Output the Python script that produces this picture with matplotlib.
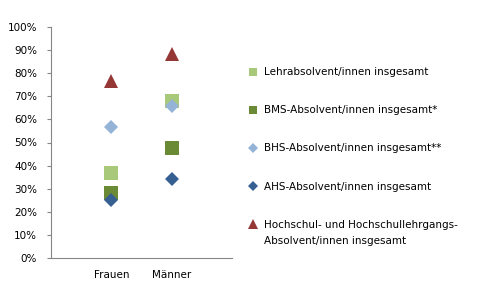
import matplotlib
matplotlib.use("Agg")
from matplotlib import pyplot as plt
from matplotlib.ticker import PercentFormatter

categories = ["Frauen", "Männer"]
lehr = [36.7, 68.0]
bms = [28.3, 47.5]
bhs = [56.5, 66.0]
ahs = [25.3, 34.0]
hochschul = [76.7, 88.3]

series = [
    ("Lehrabsolvent/innen insgesamt", lehr, "s", "#A9C97A", 9.5),
    ("BMS-Absolvent/innen insgesamt*", bms, "s", "#6B8A35", 9.5),
    ("BHS-Absolvent/innen insgesamt**", bhs, "D", "#95B3D7", 7.5),
    ("AHS-Absolvent/innen insgesamt", ahs, "D", "#376092", 7.5),
    ("Hochschul- und Hochschullehrgangs-", hochschul, "^", "#953735", 10),
]
second_line = "Absolvent/innen insgesamt"

fig = plt.figure(figsize=(4.82, 2.9), dpi=100)
ax = fig.add_axes([51 / 482, 32 / 290, 181 / 482, 231 / 290])

xs = [1, 2]
for label, vals, marker, color, size in series:
    ax.plot(xs, vals, linestyle="none", marker=marker, markersize=size,
            color=color, markeredgewidth=0, label=label)

ax.set_xlim(0, 3)
ax.set_ylim(0, 100)
ax.set_xticks(xs)
ax.set_xticklabels(categories, fontsize=7.5)
ax.set_yticks(range(0, 101, 10))
ax.yaxis.set_major_formatter(PercentFormatter(decimals=0))
ax.tick_params(axis="y", labelsize=7.5, length=3, direction="out", color="#868686", pad=7)
ax.tick_params(axis="x", length=0, pad=9)
for side in ["top", "right"]:
    ax.spines[side].set_visible(False)
for side in ["left", "bottom"]:
    ax.spines[side].set_color("#868686")
    ax.spines[side].set_linewidth(0.8)

handles, labels = ax.get_legend_handles_labels()
leg = fig.legend(handles, labels, loc="upper left", bbox_to_anchor=(246 / 482, 1 - 63 / 290),
                 frameon=False, fontsize=7.5, labelspacing=2.7, handlelength=0.6,
                 handletextpad=0.7, markerscale=0.65, borderaxespad=0)

# wrap the last legend entry onto a second line under its text
fig.canvas.draw()
last = leg.get_texts()[-1]
bb = last.get_window_extent()
fig.text(bb.x0 / 482, (bb.y0 - 16) / 290, second_line, fontsize=7.5,
         ha="left", va="bottom")

fig.savefig("out.png", dpi=100)
